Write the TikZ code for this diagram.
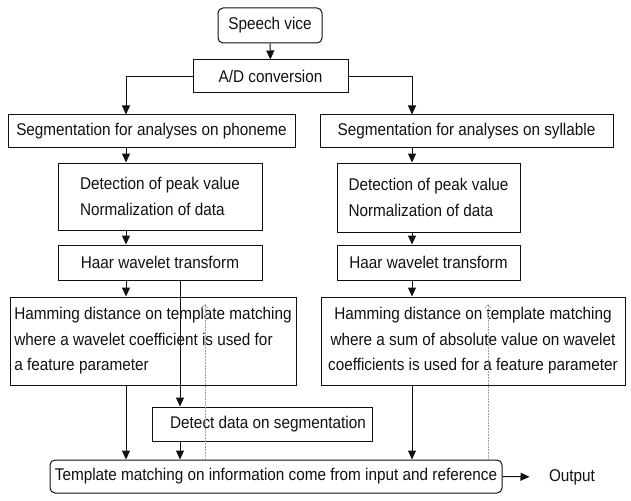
\documentclass[tikz,border=0pt]{standalone}
\usepackage{fontspec}
\setmainfont[FakeStretch=0.9]{Liberation Sans}
\usetikzlibrary{arrows.meta}
\definecolor{flowink}{HTML}{111111}
\definecolor{flowghost}{HTML}{A0A0A0}
\tikzset{
  box/.style={draw=flowink, line width=1pt, inner sep=2pt, text=flowink,
    font=\fontsize{17}{25.5}\selectfont},
  roundbox/.style={box, rounded corners=5pt},
  arr/.style={flowink, line width=1pt, -{Triangle[length=9pt,width=8pt]}},
  ghost/.style={flowghost, line width=0.5pt, densely dotted,
    {Straight Barb[length=4pt,width=6pt]}-},
}

\begin{document}
\begin{tikzpicture}[x=1pt, y=-1pt]
  \useasboundingbox (0,0) rectangle (631,500);

  % columns the connectors run on
  \coordinate (lcol) at (126,0);
  \coordinate (rcol) at (412,0);
  \coordinate (scol) at (180,0);

  \node[roundbox, minimum width=104, minimum height=35] (speech) at (270,25.5) {Speech vice};
  \node[box, minimum width=155, minimum height=33] (adconv) at (270.5,76.5) {A/D conversion};

  % phoneme side
  \node[box, minimum width=287, minimum height=32] (segph) at (151.5,131) {Segmentation for analyses on phoneme};
  \node[box, minimum width=204, minimum height=67, align=left] (detph) at (160,196.5) {Detection of peak value\\Normalization of data};
  \node[box, minimum width=204, minimum height=35] (haarph) at (160,262.5) {Haar wavelet transform};
  \node[box, minimum width=286, minimum height=88, align=left] (hamph) at (153,341)
    {Hamming distance on template matching\\where a wavelet coefficient is used for\\a feature parameter};

  % syllable side
  \node[box, minimum width=293, minimum height=32] (segsy) at (466.5,131) {Segmentation for analyses on syllable};
  \node[box, minimum width=183, minimum height=69, align=left] (detsy) at (428.5,197.5) {Detection of peak value\\Normalization of data};
  \node[box, minimum width=183, minimum height=35] (haarsy) at (428.5,262.5) {Haar wavelet transform};
  \node[box, minimum width=304, minimum height=88, align=center] (hamsy) at (473,341)
    {Hamming distance on template matching\\where a sum of absolute value on wavelet\\coefficients is used for a feature parameter};

  \node[box, minimum width=220, minimum height=34] (detseg) at (262,424) {\hspace{12pt}Detect data on segmentation};
  \node[roundbox, minimum width=452, minimum height=33] (templ) at (276,476.5)
    {Template matching on information come from input and reference};
  \node[text=flowink, font=\fontsize{17}{20}\selectfont] (output) at (572,477) {Output};

  \draw[arr] (speech) -- (adconv);
  \draw[arr] (adconv.west) -| (segph.north -| lcol);
  \draw[arr] (adconv.east) -| (segsy.north -| rcol);

  \draw[arr] (segph.south -| lcol) -- (detph.north -| lcol);
  \draw[arr] (detph.south -| lcol) -- (haarph.north -| lcol);
  \draw[arr] (haarph.south -| lcol) -- (hamph.north -| lcol);
  \draw[arr] (hamph.south -| lcol) -- (templ.north -| lcol);

  \draw[arr] (segsy.south -| rcol) -- (detsy.north -| rcol);
  \draw[arr] (detsy.south -| rcol) -- (haarsy.north -| rcol);
  \draw[arr] (haarsy.south -| rcol) -- (hamsy.north -| rcol);
  \draw[arr] (hamsy.south -| rcol) -- (templ.north -| rcol);

  \draw[arr] (haarph.south -| scol) -- (detseg.north -| scol);
  \draw[arr] (detseg.south -| scol) -- (templ.north -| scol);

  \draw[arr, shorten >=16pt] (templ.east) -- (output.west);

  % faint marks of the scan
  \coordinate (gl) at (205,304);
  \coordinate (gr) at (488,304);
  \draw[ghost] (gl) -- (gl |- templ.north);
  \draw[ghost] (gr) -- (gr |- templ.north);

\end{tikzpicture}
\end{document}
